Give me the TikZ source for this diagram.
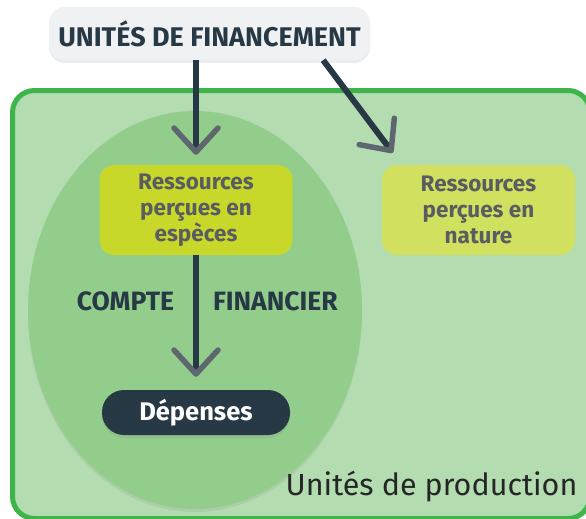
\documentclass[tikz,border=0pt]{standalone}
\usepackage{fontspec}
\setmainfont{Fira Sans}
\usetikzlibrary{arrows.meta,shadows,positioning}
\definecolor{inkdark}{HTML}{283946}
\definecolor{headgray}{HTML}{5E6670}
\definecolor{textgray}{HTML}{595C60}
\definecolor{frame}{HTML}{3DB54A}
\definecolor{prodfill}{HTML}{B3DCB0}
\definecolor{compfill}{HTML}{93CD8B}
\definecolor{cashfill}{HTML}{C8D82B}
\definecolor{kindfill}{HTML}{D1E05F}
\definecolor{topfill}{HTML}{EFF1F3}

\begin{document}
\begin{tikzpicture}[x=1pt, y=-1pt,
    res/.style={rectangle, rounded corners=15pt, minimum width=193pt, minimum height=90pt, align=center, text=textgray, font=\fontsize{22.5}{26}\selectfont\bfseries},
    flow/.style={line width=6pt, draw=inkdark, -{Straight Barb[length=24pt, width=44pt, line width=5.5pt, round, color=headgray]}},
    lbl/.style={inner sep=0pt, text=inkdark, font=\fontsize{26.5}{28}\selectfont\bfseries},
    softshadow/.style={drop shadow={shadow xshift=0pt, shadow yshift=-3pt, opacity=0.15}}
]

\useasboundingbox[fill=white] (0,0) rectangle (586,519);

% Production units frame
\draw[line width=5pt, draw=frame, fill=prodfill, rounded corners=22pt] (12.5,90.5) rectangle (590,518.5);

% Financial account
\fill[compfill, softshadow] (195,310) ellipse [x radius=167, y radius=199];

% Boxes
\node[res, fill=cashfill] (cash) at (196,210) {Ressources\\perçues en\\espèces};
\node[res, fill=kindfill] (kind) at (478.5,210) {Ressources\\perçues en\\nature};

\node[rectangle, rounded corners=16pt, fill=topfill, softshadow, minimum width=321pt, minimum height=53pt, text=inkdark, font=\fontsize{27}{30}\selectfont\bfseries] (fin) at (209.5,33.5) {UNITÉS DE FINANCEMENT};

\node[rectangle, rounded corners=22pt, fill=inkdark, softshadow, minimum width=188pt, minimum height=45pt, text=white, font=\fontsize{25.5}{28}\selectfont\bfseries] (spend) at (196,412.5) {Dépenses};

% Flows
\draw[flow] (fin.south -| cash) -- ([yshift=10pt]cash.north);
\draw[flow] ([xshift=-47pt]fin.south east) -- ([xshift=11pt, yshift=12pt]kind.north west);
\draw[flow] (cash.south) -- ([yshift=13pt]spend.north)
    node[lbl, pos=.38, left=19pt] (acc1) {COMPTE}
    node[lbl, pos=.38, right=14pt] (acc2) {FINANCIER};

\node[anchor=base, text=black!85, font=\fontsize{30.5}{34}\selectfont] (prod) at (431.5,495) {Unités de production};

\end{tikzpicture}
\end{document}
